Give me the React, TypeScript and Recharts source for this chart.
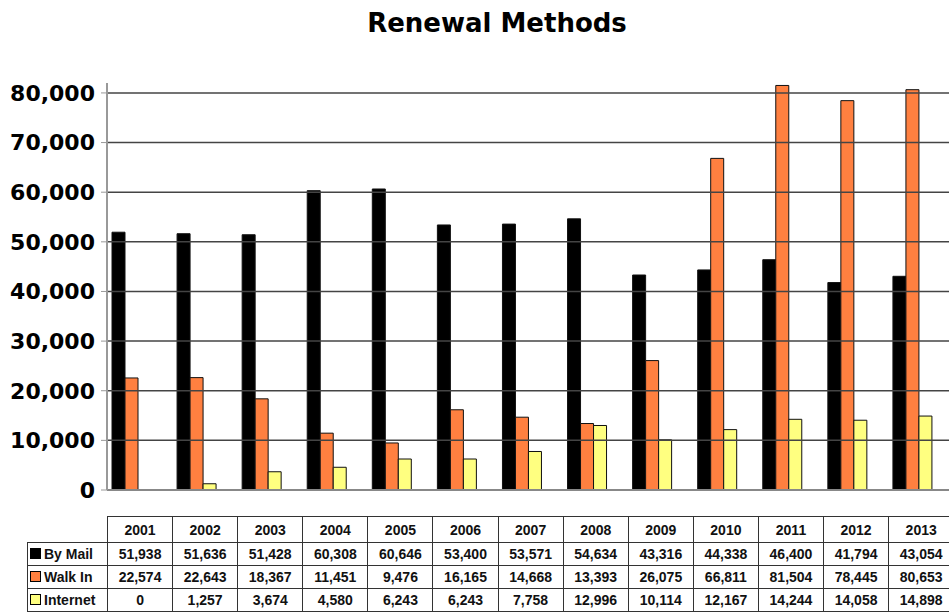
import { BarChart, Bar, XAxis, YAxis, ReferenceLine } from 'recharts'

const years = ['2001', '2002', '2003', '2004', '2005', '2006', '2007', '2008', '2009', '2010', '2011', '2012', '2013']
const byMail = [51938, 51636, 51428, 60308, 60646, 53400, 53571, 54634, 43316, 44338, 46400, 41794, 43054]
const walkIn = [22574, 22643, 18367, 11451, 9476, 16165, 14668, 13393, 26075, 66811, 81504, 78445, 80653]
const internet = [0, 1257, 3674, 4580, 6243, 6243, 7758, 12996, 10114, 12167, 14244, 14058, 14898]
const yTicks = [0, 10000, 20000, 30000, 40000, 50000, 60000, 70000, 80000]

const series = [
  { key: 'mail', name: 'By Mail', values: byMail, color: '#000000' },
  { key: 'walk', name: 'Walk In', values: walkIn, color: '#FF8040' },
  { key: 'net', name: 'Internet', values: internet, color: '#FFFF80' },
]

const data = years.map((y, i) => ({
  year: y,
  mail: byMail[i],
  walk: walkIn[i],
  net: internet[i],
}))

const fmt = (v: number) => v.toLocaleString('en-US')

const cell: React.CSSProperties = {
  border: '1.5px solid #333',
  textAlign: 'center',
  padding: 0,
  height: 22,
}

export default function App() {
  return (
    <div
      style={{
        position: 'absolute',
        top: 0,
        left: 0,
        width: 949,
        height: 615,
        overflow: 'hidden',
        background: '#fff',
        fontFamily: '"Liberation Sans", Arial, sans-serif',
      }}
    >
      <div
        style={{
          position: 'absolute',
          top: 8,
          left: 0,
          width: 994,
          textAlign: 'center',
          fontFamily: '"DejaVu Sans", sans-serif',
          fontWeight: 'bold',
          fontSize: 26,
          color: '#000',
        }}
      >
        Renewal Methods
      </div>

      <BarChart
        width={953}
        height={505}
        data={data}
        margin={{ top: 83, right: 0, left: 0, bottom: 0 }}
        barGap={0}
        barSize={13}
      >
        <XAxis
          dataKey="year"
          tick={false}
          height={15}
          axisLine={{ stroke: '#888', strokeWidth: 2 }}
          tickLine={false}
          padding={{ left: -8, right: 8 }}
        />
        <YAxis
          width={107}
          domain={[0, 82000]}
          ticks={yTicks}
          interval={0}
          tickFormatter={fmt}
          axisLine={{ stroke: '#999', strokeWidth: 2 }}
          tickLine={{ stroke: '#999' }}
          tickSize={6}
          tickMargin={6}
          tick={{
            fill: '#000',
            fontSize: 22,
            fontWeight: 'bold',
            fontFamily: '"DejaVu Sans", sans-serif',
          }}
        />
        {yTicks.slice(1).map((t) => (
          <ReferenceLine key={t} y={t} stroke="#444" strokeWidth={1.5} />
        ))}
        {series.map((s) => (
          <Bar
            key={s.key}
            dataKey={s.key}
            name={s.name}
            fill={s.color}
            stroke="#111"
            strokeWidth={1}
            isAnimationActive={false}
          />
        ))}
      </BarChart>

      <table
        style={{
          position: 'absolute',
          top: 516,
          left: 27,
          borderCollapse: 'collapse',
          tableLayout: 'fixed',
          width: 926,
          fontSize: 14,
          fontWeight: 'bold',
          color: '#111',
        }}
      >
        <colgroup>
          <col style={{ width: 80 }} />
          {years.map((y) => (
            <col key={y} style={{ width: 65.1 }} />
          ))}
        </colgroup>
        <tbody>
          <tr>
            <td style={{ ...cell, border: 'none', borderRight: '1.5px solid #333' }} />
            {years.map((y) => (
              <td key={y} style={{ ...cell, height: 25 }}>
                {y}
              </td>
            ))}
          </tr>
          {series.map((s) => (
            <tr key={s.key}>
              <td style={{ ...cell, textAlign: 'left', paddingLeft: 2, whiteSpace: 'nowrap' }}>
                <span
                  style={{
                    display: 'inline-block',
                    width: 9,
                    height: 9,
                    background: s.color,
                    border: '1px solid #000',
                    marginRight: 3,
                  }}
                />
                {s.name}
              </td>
              {s.values.map((v, i) => (
                <td key={i} style={cell}>
                  {fmt(v)}
                </td>
              ))}
            </tr>
          ))}
        </tbody>
      </table>
    </div>
  )
}
